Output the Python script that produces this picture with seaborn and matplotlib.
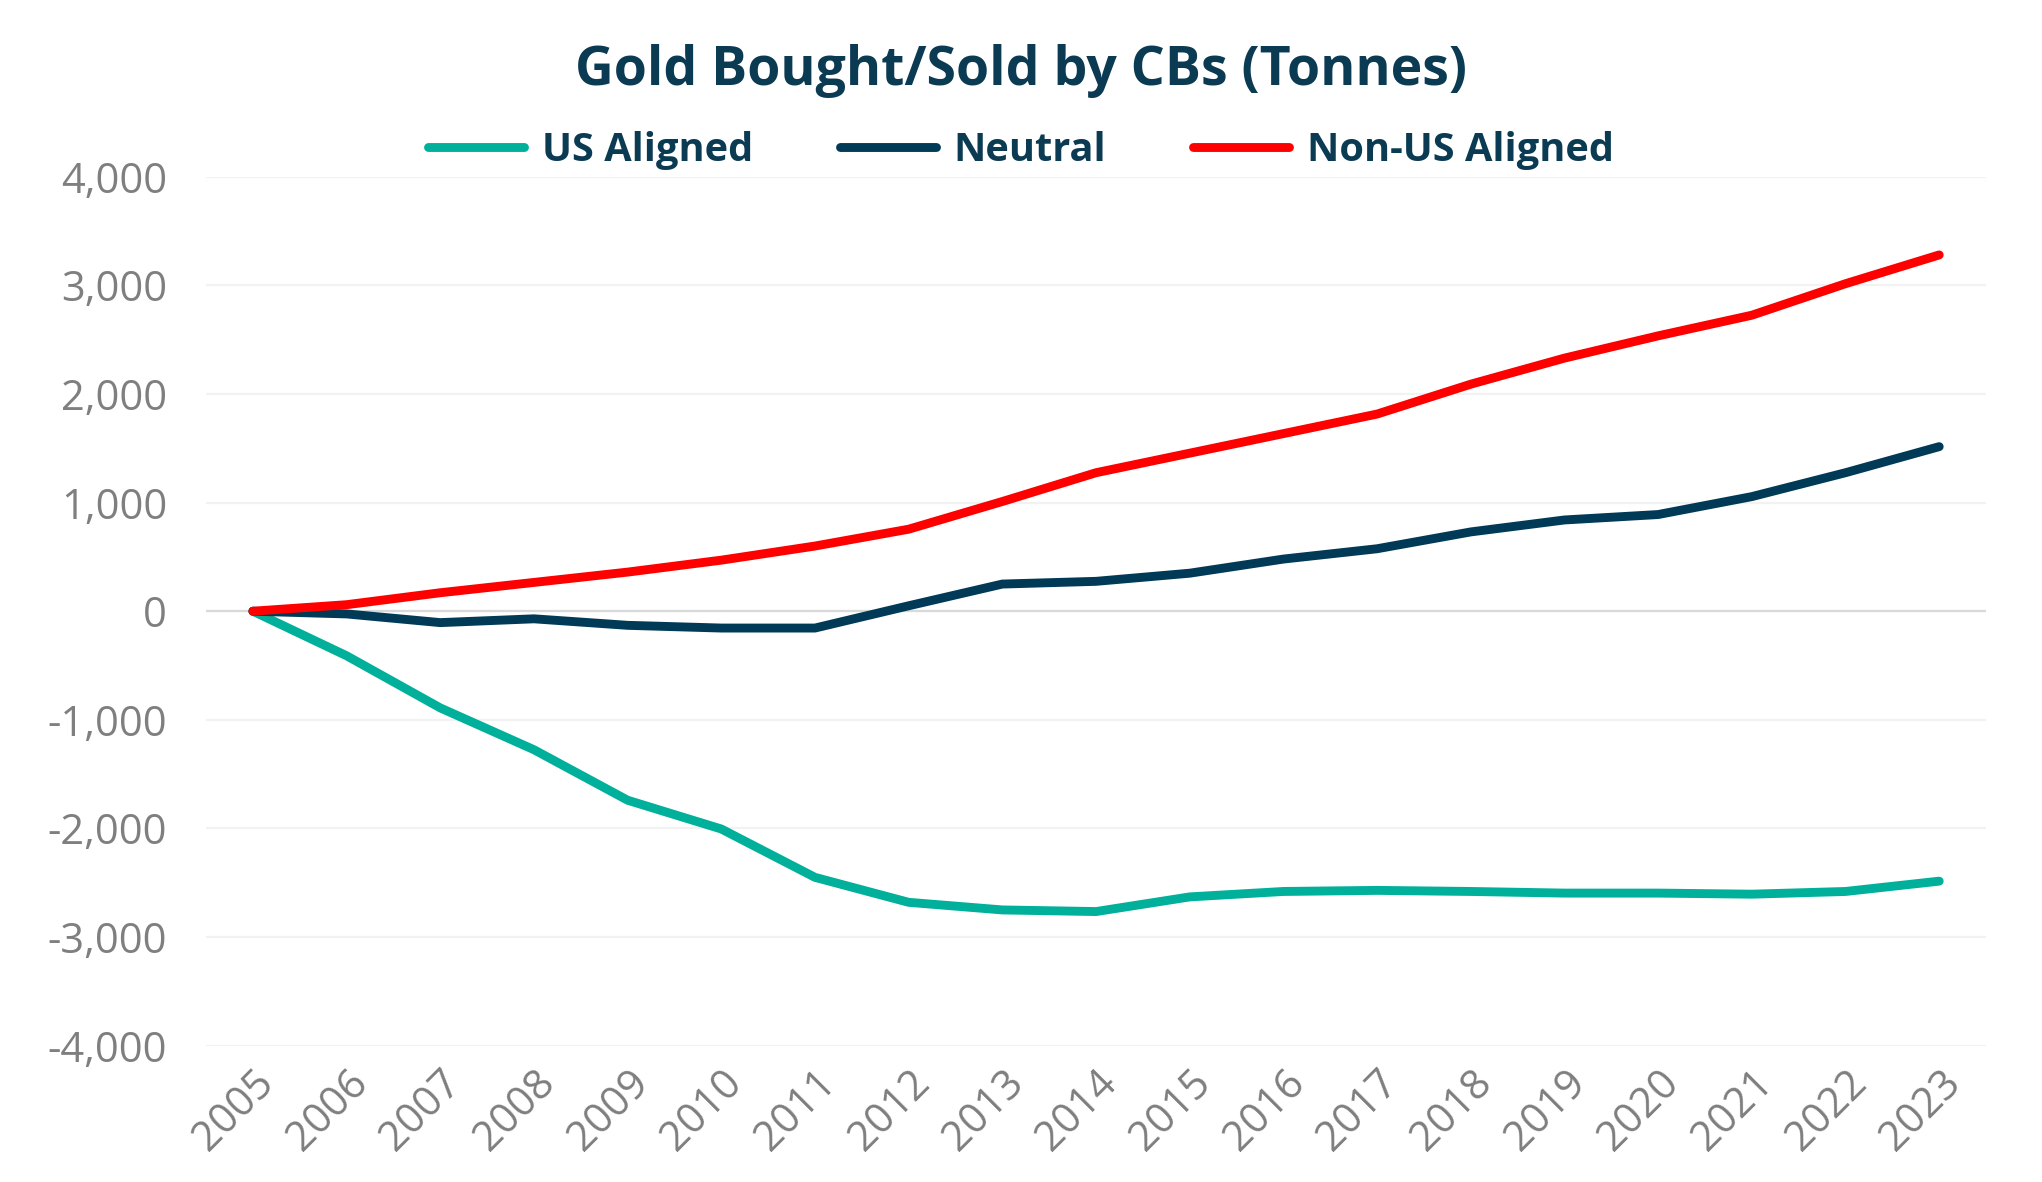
import matplotlib
matplotlib.use("Agg")
import matplotlib.pyplot as plt
import matplotlib.ticker as mticker
import pandas as pd
import seaborn as sns

# cumulative central-bank gold purchases (tonnes)
years = list(range(2005, 2024))
us_aligned = [0, -410, -890, -1275, -1740, -2005, -2450, -2680, -2750, -2765,
              -2630, -2580, -2570, -2580, -2595, -2595, -2605, -2580, -2485]
neutral = [0, -25, -105, -70, -130, -155, -155, 50, 250, 275,
           350, 480, 575, 730, 840, 890, 1055, 1275, 1515]
non_us_aligned = [0, 60, 170, 265, 360, 470, 600, 755, 1010, 1275,
                  1455, 1635, 1815, 2090, 2330, 2535, 2725, 3015, 3280]

series_names = ["US Aligned", "Neutral", "Non-US Aligned"]
series_colors = ["#00B09B", "#003A57", "#FF0000"]

NAVY = "#0B3A53"
GREY = "#7F7F7F"

df = pd.DataFrame({
    "Year": years * 3,
    "Tonnes": us_aligned + neutral + non_us_aligned,
    "Group": [n for n in series_names for _ in years],
})

sns.set_style("white")
plt.rcParams["font.family"] = ["Open Sans", "DejaVu Sans"]

fig = plt.figure(figsize=(10.21, 5.91), dpi=200)
ax = fig.add_axes([0.1009, 0.1153, 0.8717, 0.7352])

sns.lineplot(
    data=df, x="Year", y="Tonnes", hue="Group",
    hue_order=series_names, palette=dict(zip(series_names, series_colors)),
    linewidth=3.2, solid_capstyle="round", ax=ax, legend=False, zorder=3,
)

ax.set_xlim(2004.5, 2023.5)
ax.set_ylim(-4000, 4000)
ax.set_xticks(years)
ax.set_xticklabels([str(y) for y in years], rotation=45, ha="right",
                   rotation_mode="anchor", fontsize=15, color=GREY)
ax.yaxis.set_major_locator(mticker.MultipleLocator(1000))
ax.yaxis.set_major_formatter(mticker.FuncFormatter(lambda v, _: f"{v:,.0f}"))
ax.tick_params(axis="y", labelsize=15, labelcolor=GREY, length=0, pad=14)
ax.tick_params(axis="x", length=0, pad=6)

ax.grid(axis="y", color="#F2F2F2", linewidth=0.8, zorder=0)
ax.axhline(0, color="#D9D9D9", linewidth=0.8, zorder=1)
for s in ax.spines.values():
    s.set_visible(False)
ax.set_xlabel("")
ax.set_ylabel("")

fig.text(0.5, 0.928, "Gold Bought/Sold by CBs (Tonnes)", ha="center",
         va="baseline", fontsize=19.3, fontweight="bold", color=NAVY)

handles = [plt.Line2D([], [], color=c, linewidth=3.2, solid_capstyle="round")
           for c in series_colors]
leg = fig.legend(handles, series_names, loc="center", bbox_to_anchor=(0.5, 0.873),
                 ncol=3, frameon=False, fontsize=14.3, handlelength=2.4,
                 handletextpad=0.45, columnspacing=2.2)
for t in leg.get_texts():
    t.set_color(NAVY)
    t.set_fontweight("bold")

fig.savefig("out.png", dpi=200)
